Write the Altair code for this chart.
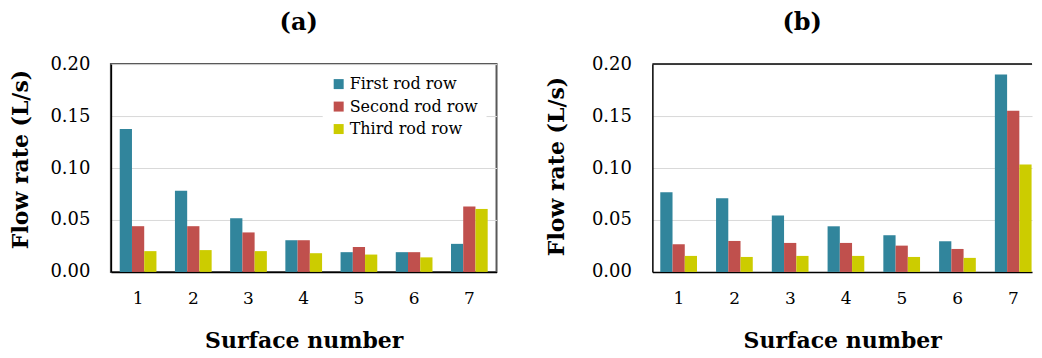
import altair as alt
import pandas as pd

surfaces = ["1", "2", "3", "4", "5", "6", "7"]
series = ["First rod row", "Second rod row", "Third rod row"]
colors = ["#31859C", "#C0504D", "#CCCC00"]

a_first = [0.1375, 0.078, 0.0516, 0.0305, 0.019, 0.019, 0.027]
a_second = [0.044, 0.044, 0.038, 0.0305, 0.024, 0.019, 0.063]
a_third = [0.020, 0.021, 0.020, 0.018, 0.0167, 0.014, 0.0606]

b_first = [0.0766, 0.0708, 0.0542, 0.0439, 0.0353, 0.0295, 0.190]
b_second = [0.0266, 0.0298, 0.0279, 0.0279, 0.0253, 0.0221, 0.155]
b_third = [0.0154, 0.0144, 0.0154, 0.0154, 0.0144, 0.0135, 0.1035]

y_ticks = [0.0, 0.05, 0.10, 0.15, 0.20]

FONT = "DejaVu Serif"


def make_df(vals):
    rows = []
    for s, v in zip(series, vals):
        for surf, val in zip(surfaces, v):
            rows.append({"surface": surf, "series": s, "value": val})
    return pd.DataFrame(rows)


df_a = make_df([a_first, a_second, a_third])
df_b = make_df([b_first, b_second, b_third])


def x_enc(scale):
    return alt.X("surface:N", sort=surfaces, scale=scale,
                 axis=alt.Axis(title="Surface number", labelAngle=0, ticks=False, tickSize=0,
                               domainColor="black", domainWidth=1.5,
                               labelFont=FONT, labelFontSize=17, labelColor="black",
                               labelPadding=19, titlePadding=24,
                               titleFont=FONT, titleFontSize=22, titleFontWeight="bold",
                               titleColor="black"))


def y_enc(title_pad, title_y):
    return alt.Y("value:Q", scale=alt.Scale(domain=[0, 0.2], nice=False),
                 axis=alt.Axis(title="Flow rate (L/s)", values=y_ticks, format=".2f",
                               ticks=False, tickSize=0, domainColor="black", domainWidth=1.5,
                               gridColor="#d9d9d9", gridWidth=1,
                               labelFont=FONT, labelFontSize=18, labelColor="black",
                               labelPadding=21, titlePadding=title_pad, titleY=title_y,
                               titleFont=FONT, titleFontSize=22, titleFontWeight="bold",
                               titleColor="black"))


xoff = alt.XOffset("series:N", sort=series, scale=alt.Scale(paddingInner=0, paddingOuter=0))

chart_a = alt.Chart(df_a).mark_bar().encode(
    x=x_enc(alt.Scale(paddingInner=0.335, paddingOuter=0.16)),
    xOffset=xoff,
    y=y_enc(17, 95),
    color=alt.Color("series:N", sort=series,
                    scale=alt.Scale(domain=series, range=colors),
                    legend=alt.Legend(title=None, orient="none", legendX=212, legendY=4,
                                      fillColor="white", padding=8, symbolType="square",
                                      symbolSize=100, symbolStrokeWidth=0, symbolOpacity=1,
                                      labelFont=FONT, labelFontSize=16, labelColor="black",
                                      rowPadding=6.5, labelOffset=3)),
).properties(
    width=386, height=208,
    title=alt.TitleParams("(a)", font=FONT, fontSize=24, fontWeight="bold", color="black",
                          anchor="middle", frame="group", dx=-5, offset=20),
    view=alt.ViewBackground(stroke="#595959", strokeWidth=2),
)

bars_b = alt.Chart(df_b).mark_bar().encode(
    x=x_enc(alt.Scale(paddingInner=0.334, paddingOuter=0.071, align=1)),
    xOffset=xoff,
    y=y_enc(23, 102),
    color=alt.Color("series:N", sort=series,
                    scale=alt.Scale(domain=series, range=colors), legend=None),
)
top_b = alt.Chart(pd.DataFrame({"v": [0.2]})).mark_rule(color="black", strokeWidth=1.5).encode(
    y=alt.Y("v:Q")
)
chart_b = alt.layer(bars_b, top_b).properties(
    width=380, height=208,
    title=alt.TitleParams("(b)", font=FONT, fontSize=24, fontWeight="bold", color="black",
                          anchor="middle", frame="group", dx=-40, offset=20),
    view=alt.ViewBackground(stroke="transparent"),
)

chart = alt.hconcat(chart_a, chart_b, spacing=47).resolve_scale(
    color="independent"
).resolve_legend(color="independent").configure(
    padding={"top": 2, "left": 0, "right": 0, "bottom": 0}
).configure_view(stroke="transparent")

chart.save("out.html", embed_options={"renderer": "svg", "actions": False})
